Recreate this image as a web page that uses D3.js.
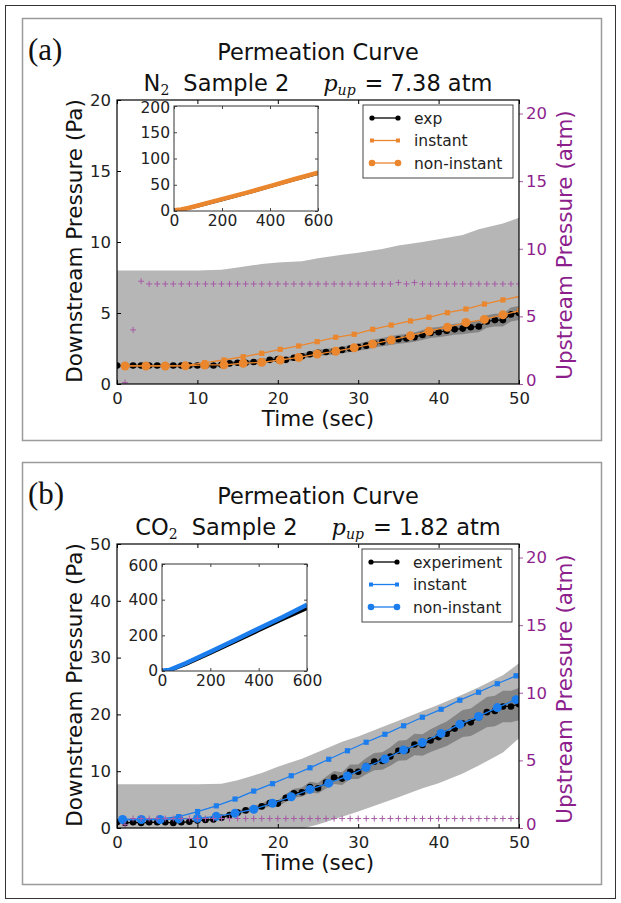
<!DOCTYPE html>
<html>
<head>
<meta charset="utf-8">
<script src="https://cdn.jsdelivr.net/npm/d3@7"></script>
<style>
  body { margin: 0; background: #fff; }
  svg { display: block; }
  text { font-family: "DejaVu Sans", sans-serif; }
</style>
</head>
<body>
<div id="chart"></div>
<script>
// ---- data ----
var expTimes = [0,1,2,3,4,5,6,7,8,9,10,11,12,13,14,15,16,17,18,19,20,21,22,23,24,25,
  26,27,28,29,30,31,32,33,34,35,36,37,38,39,40,41,42,43,44,45,46,47,48,49,50];
var upTimes = [1,2,3,4,5,6,7,8,9,10,11,12,13,14,15,16,17,18,19,20,21,22,23,24,25,
  26,27,28,29,30,31,32,33,34,35,36,37,38,39,40,41,42,43,44,45,46,47,48,49,50];
var bandTimes = [0,5,10,13,15,18,20,23,25,28,30,33,35,38,40,43,45,48,50];

// (a) N2
var expA = [1.3,1.3,1.3,1.3,1.3,1.3,1.3,1.3,1.3,1.3,1.3,1.3,1.3,1.35,1.45,1.5,1.5,1.55,1.6,1.7,
  1.75,1.7,1.85,1.95,2.1,2.2,2.25,2.3,2.4,2.5,2.6,2.7,2.85,2.95,3.05,3.15,3.2,3.3,3.45,3.6,
  3.65,3.75,3.85,3.9,4.0,4.05,4.4,4.5,4.5,4.9,5.0];
var modelTimesA = [1.0,3.6,6.0,8.5,10.9,13.3,15.7,18.0,20.3,22.6,24.9,27.2,29.5,31.8,34.1,36.5,
  38.8,41.1,43.4,45.7,48.0,50.3];
var instantA = [1.27,1.27,1.27,1.3,1.5,1.69,1.92,2.16,2.44,2.68,2.98,3.29,3.5,3.85,4.15,4.44,
  4.7,5.02,5.28,5.63,5.92,6.2];
var nonInstantA = [1.27,1.27,1.27,1.28,1.34,1.35,1.46,1.53,1.69,1.87,2.11,2.31,2.55,2.82,3.09,
  3.4,3.72,4.0,4.33,4.55,4.87,5.2];
var upstreamA = [0.1,4.0,7.6,7.4,7.4,7.4,7.4,7.4,7.4,7.4,7.4,7.4,7.4,7.4,7.4,7.4,7.4,7.4,7.4,7.4,
  7.4,7.4,7.4,7.4,7.4,7.4,7.4,7.4,7.4,7.4,7.4,7.4,7.4,7.4,7.5,7.4,7.5,7.4,7.4,7.4,
  7.4,7.4,7.4,7.4,7.4,7.4,7.4,7.4,7.4,7.4];
var bandUpA = [8.0,8.0,8.0,8.05,8.2,8.45,8.55,8.65,8.85,9.1,9.25,9.5,9.75,10.0,10.2,10.5,10.9,11.3,11.7];
var bandLoA = [-5.4,-5.4,-5.4,-5.3,-5.2,-5.0,-4.8,-4.6,-4.4,-4.0,-3.9,-3.5,-3.2,-2.9,-2.6,-2.2,-1.9,-1.4,-0.9];
var relErrA = 0.1;
var insetTimesA = [0,30,60,100,200,300,400,500,600];
var insetExpA = [1.3,2.6,5.5,10,22,34,47,60,72];
var insetModelA = [1.3,2.8,5.8,10.5,22.5,34.5,47.5,60.5,73];

// (b) CO2
var expB = [1.0,0.9,1.0,0.9,1.0,1.0,1.0,0.9,1.0,1.1,1.3,1.4,1.5,1.8,2.3,2.7,3.1,3.4,3.8,4.4,
  4.3,5.3,6.1,6.3,7.2,7.0,8.0,8.9,8.7,9.9,9.9,10.9,11.7,11.8,12.6,13.6,13.7,14.7,14.6,15.4,
  16.0,16.6,17.5,18.4,18.6,19.5,20.4,20.6,21.4,21.4,21.8];
var modelTimesB = [0.7,3.03,5.36,7.69,10.02,12.35,14.68,17.01,19.34,21.67,24.0,26.33,28.66,30.99,
  33.32,35.65,37.98,40.31,42.64,44.97,47.3,49.63];
var instantB = [1.5,1.5,1.6,2.0,2.9,3.9,5.1,6.5,7.8,9.2,10.6,12.1,13.6,15.1,16.5,18.0,19.5,20.9,
  22.5,23.9,25.4,26.8];
var nonInstantB = [1.5,1.5,1.5,1.6,1.7,2.05,2.6,3.3,4.35,5.5,6.8,7.9,9.15,10.7,12.15,13.75,15.05,
  16.65,18.25,19.65,21.2,22.6];
var upstreamB = [0.25,0.7,0.7,0.7,0.7,0.7,0.7,0.7,0.7,0.7,0.7,0.7,0.7,0.7,0.7,0.7,0.7,0.7,0.7,0.7,
  0.7,0.7,0.7,0.7,0.7,0.7,0.7,0.7,0.7,0.7,0.7,0.7,0.7,0.7,0.7,0.7,0.7,0.7,0.7,0.7,
  0.7,0.7,0.7,0.7,0.7,0.7,0.7,0.7,0.7,0.7];
var bandUpB = [7.7,7.7,7.7,7.8,8.4,9.7,10.8,12.2,13.4,15.2,16.1,17.8,18.9,20.6,21.7,23.5,24.8,26.9,29.0];
var bandLoB = [-6,-6,-6,-5.5,-4.8,-3.5,-2.5,-0.1,0.6,2.0,2.9,4.4,5.4,7.0,7.9,9.6,11.0,13.3,15.8];
var relErrB = 0.13;
var insetTimesB = [0,30,100,200,300,400,500,600];
var insetExpB = [1,2.5,38,100,163,227,290,352];
var insetModelB = [1.5,5,45,108,172,238,303,372];

var xTicks = [0,10,20,30,40,50];
var upTicks = [0,5,10,15,20];

// ---- styling ----
var orange = "#ea862e";
var blue = "#1c7ded";
var purple = "#8d1f8d";
var plusColor = "#a65aa6";
var lightGray = "#b6b6b6";
var darkGray = "#858585";

var svg = d3.select("#chart").append("svg")
  .attr("width", 621)
  .attr("height", 903);

svg.append("rect")
  .attr("x", 5.5).attr("y", 5.5)
  .attr("width", 610).attr("height", 893)
  .attr("fill", "none").attr("stroke", "#333").attr("stroke-width", 1);

var panels = [
  {
    id: "a", label: "(a)", top: 0, gas: "N", sub: "2", pup: "7.38",
    yMax: 20, yTicks: [0,5,10,15,20],
    exp: expA, modelTimes: modelTimesA, instant: instantA, nonInstant: nonInstantA,
    upstream: upstreamA, bandUp: bandUpA, bandLo: bandLoA, relErr: relErrA,
    color: orange, expName: "exp",
    inset: { x0: 174, x1: 318, y0: 106, y1: 211, yMax: 200, yTicks: [0,50,100,150,200],
             t: insetTimesA, exp: insetExpA, model: insetModelA },
    legend: { x: 363, y: 105, w: 150, h: 73 }
  },
  {
    id: "b", label: "(b)", top: 444, gas: "CO", sub: "2", pup: "1.82",
    yMax: 50, yTicks: [0,10,20,30,40,50],
    exp: expB, modelTimes: modelTimesB, instant: instantB, nonInstant: nonInstantB,
    upstream: upstreamB, bandUp: bandUpB, bandLo: bandLoB, relErr: relErrB,
    color: blue, expName: "experiment",
    inset: { x0: 162, x1: 307, y0: 120, y1: 227, yMax: 600, yTicks: [0,200,400,600],
             t: insetTimesB, exp: insetExpB, model: insetModelB },
    legend: { x: 362, y: 105, w: 150, h: 73 }
  }
];

panels.forEach(drawPanel);

function drawPanel(p) {
  var g = svg.append("g").attr("transform", `translate(0, ${p.top})`);

  // panel frame
  g.append("rect")
    .attr("x", 22.5).attr("y", 18.5)
    .attr("width", 579).attr("height", 422)
    .attr("fill", "none").attr("stroke", "#9a9a9a").attr("stroke-width", 1.5);

  g.append("text")
    .attr("x", 28).attr("y", 60)
    .style("font-family", "'Liberation Serif', 'DejaVu Serif', serif")
    .style("font-size", "31px")
    .attr("fill", "#111")
    .text(p.label);

  // titles
  g.append("text")
    .attr("x", 318).attr("y", 60)
    .attr("text-anchor", "middle")
    .style("font-size", "22.5px").attr("fill", "#111")
    .text("Permeation Curve");

  var t2 = g.append("text")
    .attr("x", 318).attr("y", 91)
    .attr("text-anchor", "middle")
    .style("font-size", "22.5px").attr("fill", "#111");
  t2.append("tspan").text(p.gas);
  t2.append("tspan").attr("dy", 4)
    .style("font-family", "'DejaVu Serif', serif").style("font-size", "14px").text(p.sub);
  t2.append("tspan").attr("dy", -4).attr("dx", 14).text("Sample 2");
  t2.append("tspan").attr("dx", 34)
    .style("font-family", "'DejaVu Serif', serif").style("font-style", "italic").text("p");
  t2.append("tspan").attr("dy", 4)
    .style("font-family", "'DejaVu Serif', serif").style("font-style", "italic")
    .style("font-size", "14px").text("up");
  t2.append("tspan").attr("dy", -4).attr("dx", 9).text("= " + p.pup + " atm");

  // scales
  var x = d3.scaleLinear().domain([0, 50]).range([117, 519]);
  var y = d3.scaleLinear().domain([0, p.yMax]).range([384, 100]);
  var yR = d3.scaleLinear().domain([0, 21]).range([384, 100]);

  var clipId = "clip-" + p.id;
  g.append("clipPath").attr("id", clipId)
    .append("rect").attr("x", 117).attr("y", 100).attr("width", 402).attr("height", 284);

  var plot = g.append("g").attr("clip-path", `url(#${clipId})`);

  // outer (light) uncertainty band
  var band = bandTimes.map((t, i) => ({ t: t, lo: p.bandLo[i], hi: p.bandUp[i] }));
  plot.append("path")
    .datum(band)
    .attr("fill", lightGray)
    .attr("d", d3.area().x(d => x(d.t)).y0(d => y(d.lo)).y1(d => y(d.hi)));

  // inner (dark) band around the experiment
  var expData = expTimes.map((t, i) => ({ t: t, v: p.exp[i] }));
  plot.append("path")
    .datum(expData)
    .attr("fill", darkGray)
    .attr("d", d3.area().x(d => x(d.t))
      .y0(d => y(d.v * (1 - p.relErr))).y1(d => y(d.v * (1 + p.relErr))));

  var line = d3.line().x(d => x(d.t)).y(d => y(d.v));

  // experiment
  plot.append("path").datum(expData)
    .attr("fill", "none").attr("stroke", "#000").attr("stroke-width", 1.2)
    .attr("d", line);
  plot.selectAll(".exp").data(expData).enter().append("circle")
    .attr("cx", d => x(d.t)).attr("cy", d => y(d.v)).attr("r", 3.3)
    .attr("fill", "#000");

  // instant model
  var instData = p.modelTimes.map((t, i) => ({ t: t, v: p.instant[i] }));
  plot.append("path").datum(instData)
    .attr("fill", "none").attr("stroke", p.color).attr("stroke-width", 1.3)
    .attr("d", line);
  plot.selectAll(".inst").data(instData).enter().append("rect")
    .attr("x", d => x(d.t) - 2.6).attr("y", d => y(d.v) - 2.6)
    .attr("width", 5.2).attr("height", 5.2)
    .attr("fill", p.color);

  // non-instant model
  var nonData = p.modelTimes.map((t, i) => ({ t: t, v: p.nonInstant[i] }));
  plot.append("path").datum(nonData)
    .attr("fill", "none").attr("stroke", p.color).attr("stroke-width", 1.3)
    .attr("d", line);
  plot.selectAll(".non").data(nonData).enter().append("circle")
    .attr("cx", d => x(d.t)).attr("cy", d => y(d.v)).attr("r", 4.5)
    .attr("fill", p.color);

  // upstream pressure (twin axis)
  var upData = upTimes.map((t, i) => ({ t: t, v: p.upstream[i] }));
  plot.selectAll(".up").data(upData).enter().append("path")
    .attr("transform", d => `translate(${x(d.t)}, ${yR(d.v)})`)
    .attr("d", "M-3,0H3M0,-3V3")
    .attr("stroke", plusColor).attr("stroke-width", 1);

  // axes
  var bottom = g.append("g").attr("transform", "translate(0, 384)")
    .call(d3.axisBottom(x).tickValues(xTicks).tickSize(-4).tickPadding(8));
  var topAx = g.append("g").attr("transform", "translate(0, 100)")
    .call(d3.axisTop(x).tickValues(xTicks).tickSize(-4).tickFormat(""));
  var left = g.append("g").attr("transform", "translate(117, 0)")
    .call(d3.axisLeft(y).tickValues(p.yTicks).tickSize(-4).tickPadding(6));
  var right = g.append("g").attr("transform", "translate(519, 0)")
    .call(d3.axisRight(yR).tickValues(upTicks).tickSize(4).tickPadding(3));

  [bottom, topAx, left, right].forEach(a => a.select(".domain").remove());
  [bottom, left].forEach(a => a.selectAll("text")
    .style("font-size", "16.5px").style("font-family", "'DejaVu Sans', sans-serif").attr("fill", "#222"));
  [bottom, topAx, left].forEach(a => a.selectAll("line").attr("stroke", "#000"));
  right.selectAll("line").attr("stroke", plusColor);
  right.selectAll("text")
    .style("font-size", "16.5px").style("font-family", "'DejaVu Sans', sans-serif").attr("fill", purple);
  // the "0" of the right axis sits just above the "50" of the time axis
  right.selectAll(".tick").filter(d => d === 0).select("text").attr("dy", "0.1em");

  g.append("rect")
    .attr("x", 117).attr("y", 100).attr("width", 402).attr("height", 284)
    .attr("fill", "none").attr("stroke", "#000").attr("stroke-width", 1.2);

  // axis titles
  g.append("text")
    .attr("transform", "translate(82, 241) rotate(-90)")
    .attr("text-anchor", "middle")
    .style("font-size", "21.5px").attr("fill", "#111")
    .text("Downstream Pressure (Pa)");
  g.append("text")
    .attr("transform", "translate(572, 245) rotate(-90)")
    .attr("text-anchor", "middle")
    .style("font-size", "21.5px").attr("fill", purple)
    .text("Upstream Pressure (atm)");
  g.append("text")
    .attr("x", 318).attr("y", 426)
    .attr("text-anchor", "middle")
    .style("font-size", "21.5px").attr("fill", "#111")
    .text("Time (sec)");

  // inset
  var ins = p.inset;
  var ix = d3.scaleLinear().domain([0, 600]).range([ins.x0, ins.x1]);
  var iy = d3.scaleLinear().domain([0, ins.yMax]).range([ins.y1, ins.y0]);
  g.append("rect")
    .attr("x", ins.x0).attr("y", ins.y0)
    .attr("width", ins.x1 - ins.x0).attr("height", ins.y1 - ins.y0)
    .attr("fill", "#fff");
  var iClip = "iclip-" + p.id;
  g.append("clipPath").attr("id", iClip)
    .append("rect").attr("x", ins.x0).attr("y", ins.y0)
    .attr("width", ins.x1 - ins.x0).attr("height", ins.y1 - ins.y0);
  var ip = g.append("g").attr("clip-path", `url(#${iClip})`);
  var iline = d3.line().x(d => ix(d.t)).y(d => iy(d.v));
  ip.append("path")
    .datum(ins.t.map((t, i) => ({ t: t, v: ins.exp[i] })))
    .attr("fill", "none").attr("stroke", "#000").attr("stroke-width", 3.5)
    .attr("d", iline);
  ip.append("path")
    .datum(ins.t.map((t, i) => ({ t: t, v: ins.model[i] })))
    .attr("fill", "none").attr("stroke", p.color).attr("stroke-width", 4.5)
    .attr("d", iline);

  var ib = g.append("g").attr("transform", `translate(0, ${ins.y1})`)
    .call(d3.axisBottom(ix).tickValues([0,200,400,600]).tickSize(-3).tickPadding(4));
  var it = g.append("g").attr("transform", `translate(0, ${ins.y0})`)
    .call(d3.axisTop(ix).tickValues([0,200,400,600]).tickSize(-3).tickFormat(""));
  var il = g.append("g").attr("transform", `translate(${ins.x0}, 0)`)
    .call(d3.axisLeft(iy).tickValues(ins.yTicks).tickSize(-3).tickPadding(4));
  var ir = g.append("g").attr("transform", `translate(${ins.x1}, 0)`)
    .call(d3.axisRight(iy).tickValues(ins.yTicks).tickSize(-3).tickFormat(""));
  [ib, it, il, ir].forEach(a => {
    a.select(".domain").remove();
    a.selectAll("line").attr("stroke", "#444");
    a.selectAll("text").style("font-size", "15.5px")
      .style("font-family", "'DejaVu Sans', sans-serif").attr("fill", "#222");
  });
  // top label of the inset y axis kept just below the subtitle line
  il.selectAll(".tick").filter(d => d === ins.yMax).select("text").attr("dy", "0.45em");
  g.append("rect")
    .attr("x", ins.x0).attr("y", ins.y0)
    .attr("width", ins.x1 - ins.x0).attr("height", ins.y1 - ins.y0)
    .attr("fill", "none").attr("stroke", "#333").attr("stroke-width", 1);

  // legend
  var L = p.legend;
  var lg = g.append("g").attr("transform", `translate(${L.x}, ${L.y})`);
  lg.append("rect").attr("width", L.w).attr("height", L.h)
    .attr("fill", "#fff").attr("stroke", "#444").attr("stroke-width", 1);
  var entries = [
    { name: p.expName, color: "#000", shape: "dot" },
    { name: "instant", color: p.color, shape: "square" },
    { name: "non-instant", color: p.color, shape: "circle" }
  ];
  entries.forEach(function (e, i) {
    var yy = 13 + i * 22.5;
    var row = lg.append("g").attr("transform", `translate(0, ${yy})`);
    row.append("line").attr("x1", 9).attr("x2", 35).attr("y1", 0).attr("y2", 0)
      .attr("stroke", e.color).attr("stroke-width", 1.3);
    [9, 35].forEach(function (cx) {
      if (e.shape === "square") {
        row.append("rect").attr("x", cx - 2).attr("y", -2).attr("width", 4).attr("height", 4)
          .attr("fill", e.color);
      } else {
        row.append("circle").attr("cx", cx).attr("cy", 0)
          .attr("r", e.shape === "dot" ? 2.6 : 3.3).attr("fill", e.color);
      }
    });
    row.append("text").attr("x", 51).attr("y", 5.5)
      .style("font-size", "15.5px").attr("fill", "#222")
      .text(e.name);
  });
}
</script>
</body>
</html>
